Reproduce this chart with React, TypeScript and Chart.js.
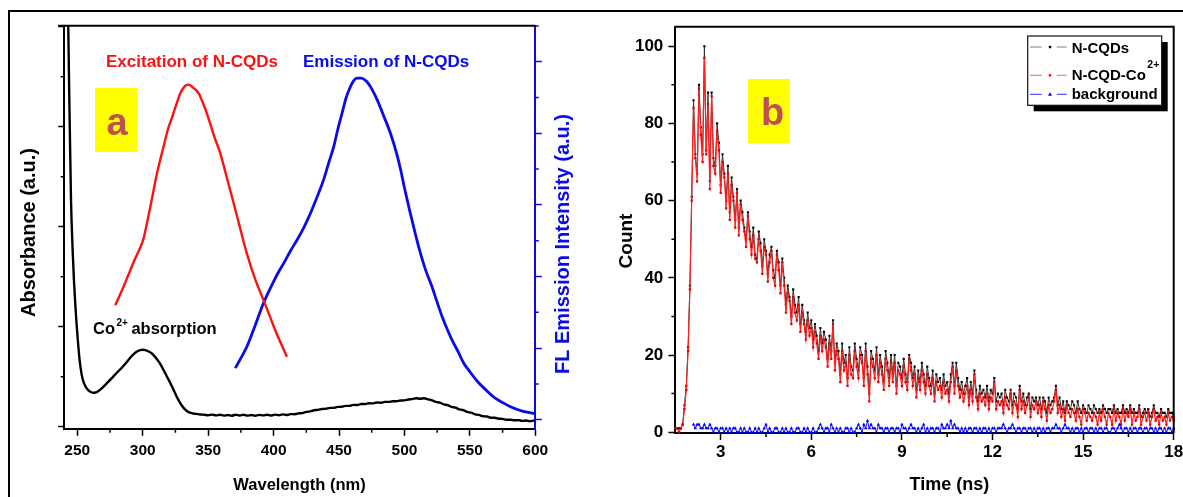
import React, { useEffect, useRef } from "react";
import { Chart, registerables } from "chart.js";

Chart.register(...registerables);

const FONT = "'Liberation Sans', Arial, Helvetica, sans-serif";

// ---------------- Panel (a): spectra ----------------
const absWavelength = [242, 243.1, 244.2, 245.2, 246.5, 247.5, 248.5, 249.5, 250.5, 251.5, 252.5, 254, 256, 258, 260, 262, 264, 266, 268, 270, 273, 276, 280, 284, 288, 292, 295, 298, 300, 302, 305, 307, 310, 313, 316, 319, 321, 323.5, 326, 328, 330, 332.5, 335, 338, 341, 344, 347, 350, 353, 356, 359, 362, 365, 368, 371, 374, 377, 380, 383, 386, 389, 392, 395, 398, 401, 404, 407, 410, 413, 416, 419, 422, 425, 428, 431, 434, 437, 440, 443, 446, 449, 452, 455, 458, 461, 464, 467, 470, 473, 476, 479, 482, 485, 488, 491, 494, 497, 500, 503, 506, 509, 512, 515, 518, 521, 524, 527, 530, 533, 536, 539, 542, 545, 548, 551, 554, 557, 560, 563, 566, 569, 572, 575, 578, 581, 584, 587, 590, 593, 596, 599, 600];
const absValue = [5.4, 4.0, 3.05, 2.27, 1.75, 1.45, 1.22, 1.02, 0.85, 0.7, 0.59, 0.48, 0.41, 0.37, 0.35, 0.34, 0.342, 0.355, 0.375, 0.4, 0.44, 0.48, 0.537, 0.59, 0.65, 0.712, 0.748, 0.766, 0.77, 0.766, 0.75, 0.732, 0.69, 0.635, 0.565, 0.49, 0.44, 0.37, 0.3, 0.25, 0.21, 0.17, 0.146, 0.134, 0.128, 0.122, 0.12, 0.114, 0.121, 0.113, 0.119, 0.111, 0.117, 0.11, 0.119, 0.112, 0.12, 0.111, 0.117, 0.11, 0.118, 0.113, 0.12, 0.112, 0.121, 0.115, 0.123, 0.117, 0.126, 0.125, 0.133, 0.136, 0.148, 0.154, 0.165, 0.168, 0.177, 0.179, 0.188, 0.188, 0.198, 0.199, 0.208, 0.208, 0.218, 0.217, 0.227, 0.226, 0.234, 0.233, 0.242, 0.24, 0.248, 0.248, 0.254, 0.255, 0.262, 0.263, 0.272, 0.276, 0.285, 0.279, 0.285, 0.274, 0.264, 0.248, 0.24, 0.224, 0.215, 0.198, 0.19, 0.173, 0.165, 0.148, 0.14, 0.124, 0.118, 0.104, 0.102, 0.09, 0.089, 0.08, 0.078, 0.07, 0.07, 0.064, 0.066, 0.058, 0.062, 0.055, 0.061, 0.058];

const excWavelength = [279, 284, 289, 294, 298, 300.5, 302.5, 305, 307, 309, 311, 313.5, 316, 318, 320, 322, 324, 326, 328.5, 331, 333, 335, 337, 339, 341, 343, 345, 347, 349, 352, 355, 359.3, 364, 369.4, 374.5, 379.6, 386, 392.3, 397, 401.3, 406, 410.2];
const excValue = [1.6, 1.8, 2.02, 2.24, 2.4, 2.52, 2.68, 2.9, 3.08, 3.27, 3.45, 3.64, 3.82, 3.97, 4.1, 4.2, 4.31, 4.42, 4.55, 4.63, 4.67, 4.68, 4.66, 4.63, 4.6, 4.55, 4.47, 4.38, 4.28, 4.11, 3.94, 3.72, 3.4, 3.03, 2.67, 2.32, 1.96, 1.67, 1.45, 1.25, 1.05, 0.88];

const emWavelength = [370.7, 375, 379.6, 386, 392.3, 400, 404, 407.6, 413, 417.9, 423, 428.1, 433, 438.2, 442, 445.9, 449, 452.3, 455.5, 458.7, 461, 463.8, 467, 469.5, 471.4, 475, 479.1, 484, 489.3, 494, 497, 500, 504, 508, 512, 516, 521, 525, 529, 533, 537, 541, 545, 550, 556, 562, 568, 575, 581, 590, 600];
const emValue = [0.72, 0.86, 1.02, 1.32, 1.63, 1.93, 2.07, 2.18, 2.36, 2.51, 2.68, 2.88, 3.1, 3.35, 3.58, 3.81, 4.05, 4.28, 4.5, 4.65, 4.73, 4.77, 4.77, 4.75, 4.72, 4.62, 4.47, 4.25, 4.0, 3.72, 3.5, 3.24, 2.92, 2.62, 2.34, 2.1, 1.86, 1.64, 1.43, 1.25, 1.09, 0.95, 0.8, 0.67, 0.53, 0.42, 0.32, 0.24, 0.18, 0.12, 0.085];

const wavelengthTicks = [250, 300, 350, 400, 450, 500, 550, 600];
const wavelengthMinorTicks = [275, 325, 375, 425, 475, 525, 575];
const absMajorTicks = [0, 1, 2, 3, 4];
const absMinorTicks = [0.5, 1.5, 2.5, 3.5];
const flMajorTicks = [0, 1, 2, 3, 4, 5];
const flMinorTicks = [0.5, 1.5, 2.5, 3.5, 4.5, 5.5];

// ---------------- Panel (b): decay curves ----------------
const TIME_START_NS = 1.5;
const CHANNEL_NS = 0.06;
const countNCQDCo = [
  1, 1, 0, 1, 2, 6, 11, 21, 37, 60,
  84, 71, 65, 89, 77, 70, 97, 72, 85, 63,
  87, 69, 67, 78, 73, 62, 70, 66, 58, 67,
  55, 64, 60, 53, 62, 51, 59, 55, 52, 48,
  56, 50, 46, 51, 45, 44, 50, 47, 41, 48,
  46, 39, 44, 47, 40, 38, 46, 42, 36, 44,
  38, 31, 36, 34, 28, 35, 31, 29, 33, 26,
  31, 28, 24, 29, 25, 27, 22, 26, 23, 19,
  25, 21, 24, 22, 17, 23, 19, 28, 16, 21,
  19, 13, 21, 16, 18, 12, 20, 15, 14, 21,
  17, 14, 20, 18, 12, 21, 15, 8, 19, 17,
  14, 20, 13, 18, 15, 11, 19, 16, 12, 18,
  13, 18, 10, 16, 15, 12, 17, 13, 11, 19,
  16, 12, 15, 9, 14, 11, 16, 13, 10, 15,
  12, 10, 14, 8, 13, 11, 12, 9, 13, 10,
  11, 8, 13, 17, 10, 16, 12, 9, 11, 8,
  10, 12, 7, 11, 8, 15, 9, 6, 10, 8,
  9, 7, 10, 6, 9, 8, 13, 6, 8, 7,
  8, 5, 9, 7, 6, 10, 5, 8, 7, 4,
  11, 6, 8, 5, 7, 9, 4, 7, 6, 8,
  5, 7, 4, 8, 6, 3, 7, 5, 6, 8,
  11, 5, 7, 4, 6, 3, 7, 5, 4, 6,
  5, 3, 6, 4, 2, 6, 5, 3, 5, 4,
  3, 5, 4, 2, 5, 3, 6, 4, 2, 5,
  4, 2, 6, 3, 5, 4, 2, 6, 3, 5,
  4, 6, 2, 5, 3, 4, 6, 2, 4, 5,
  3, 5, 2, 4, 6, 3, 4, 2, 5, 3,
  4, 2, 5, 3, 4, 3,
];
const countNCQDs = [
  1, 1, 1, 1, 2, 7, 12, 22, 38, 61,
  86, 72, 67, 90, 79, 72, 100, 73, 88, 65,
  88, 71, 69, 80, 75, 64, 72, 67, 60, 69,
  57, 66, 61, 55, 63, 53, 60, 57, 53, 50,
  57, 52, 48, 53, 46, 45, 52, 49, 43, 50,
  47, 41, 46, 48, 42, 40, 47, 44, 38, 45,
  40, 33, 38, 35, 30, 37, 33, 31, 35, 28,
  33, 29, 26, 31, 27, 29, 24, 28, 25, 21,
  27, 23, 26, 24, 19, 25, 21, 29, 18, 23,
  21, 15, 23, 18, 20, 14, 22, 17, 16, 23,
  19, 16, 22, 20, 14, 23, 17, 10, 21, 19,
  16, 22, 15, 20, 17, 13, 21, 18, 14, 20,
  15, 20, 12, 18, 17, 14, 19, 15, 13, 20,
  18, 14, 17, 11, 16, 13, 18, 15, 12, 17,
  14, 12, 16, 10, 15, 13, 14, 11, 15, 12,
  13, 10, 15, 18, 12, 18, 14, 11, 13, 10,
  12, 14, 9, 13, 10, 16, 11, 8, 12, 10,
  11, 9, 12, 8, 11, 10, 14, 8, 10, 9,
  10, 7, 11, 9, 8, 11, 7, 10, 9, 6,
  12, 8, 10, 7, 9, 10, 6, 9, 8, 9,
  7, 9, 6, 9, 8, 5, 9, 7, 8, 9,
  12, 7, 9, 6, 8, 5, 8, 7, 6, 8,
  7, 5, 8, 6, 5, 7, 6, 5, 7, 6,
  5, 7, 6, 5, 6, 5, 7, 6, 5, 6,
  6, 5, 7, 5, 6, 5, 5, 7, 5, 6,
  5, 7, 5, 6, 5, 5, 7, 4, 5, 6,
  5, 6, 4, 5, 7, 5, 5, 4, 6, 5,
  5, 4, 6, 5, 5, 4,
];
const BACKGROUND_FIRST_CHANNEL = 10;
const countBackground = [
  2, 1, 2, 2, 1, 1, 2, 1, 1, 2,
  1, 0, 1, 1, 0, 1, 1, 0, 1, 0,
  1, 0, 1, 1, 0, 0, 1, 0, 1, 0,
  0, 1, 0, 0, 1, 0, 1, 0, 0, 1,
  2, 0, 1, 0, 0, 1, 1, 0, 0, 1,
  0, 1, 0, 0, 1, 0, 0, 1, 1, 0,
  0, 1, 0, 1, 0, 0, 1, 0, 0, 1,
  2, 1, 0, 1, 1, 0, 2, 1, 0, 1,
  0, 1, 0, 0, 1, 1, 0, 1, 0, 0,
  1, 2, 1, 0, 2, 1, 3, 1, 2, 1,
  1, 0, 2, 1, 1, 0, 1, 1, 0, 1,
  1, 0, 1, 1, 0, 2, 1, 1, 0, 1,
  2, 1, 1, 0, 1, 0, 1, 2, 0, 1,
  0, 1, 1, 0, 1, 1, 0, 2, 1, 1,
  2, 1, 3, 1, 2, 1, 1, 0, 1, 0,
  1, 0, 1, 1, 0, 1, 1, 0, 1, 0,
  1, 1, 0, 1, 0, 1, 1, 0, 1, 1,
  1, 2, 1, 0, 1, 1, 2, 1, 0, 1,
  1, 0, 1, 1, 0, 1, 1, 0, 1, 0,
  1, 1, 0, 1, 0, 1, 1, 0, 1, 1,
  2, 1, 1, 0, 1, 2, 1, 1, 0, 1,
  0, 1, 1, 0, 1, 0, 1, 1, 0, 1,
  1, 0, 1, 0, 1, 1, 0, 1, 1, 0,
  0, 1, 1, 0, 1, 2, 1, 0, 1, 1,
  0, 1, 0, 1, 1, 0, 1, 1, 0, 1,
  1, 0, 1, 1, 0, 1, 0, 1, 1, 0,
  1, 0, 1, 1, 0, 1,
];
const timeTicks = [3, 6, 9, 12, 15, 18];
const timeMinorTicks = [4.5, 7.5, 10.5, 13.5, 16.5];
const countTicks = [0, 20, 40, 60, 80, 100];
const countMinorTicks = [10, 30, 50, 70, 90];

const timeNs = countNCQDCo.map((_, i) => Math.round((TIME_START_NS + i * CHANNEL_NS) * 100) / 100);

// ---------------- helpers ----------------
const setTicks = (values: number[]) => (scale: any) => {
  scale.ticks = values.map((v) => ({ value: v }));
};

const minorTicksPlugin = {
  id: "minorTicks",
  afterDraw(chart: any, _args: any, opts: any) {
    const ctx = chart.ctx;
    (opts.items || []).forEach((it: any) => {
      const scale = chart.scales[it.axis];
      ctx.save();
      ctx.strokeStyle = it.color;
      ctx.lineWidth = it.width;
      ctx.beginPath();
      it.values.forEach((v: number) => {
        const p = scale.getPixelForValue(v);
        if (scale.position === "bottom") {
          ctx.moveTo(p, scale.top);
          ctx.lineTo(p, scale.top + it.length);
        } else if (scale.position === "left") {
          ctx.moveTo(scale.right, p);
          ctx.lineTo(scale.right - it.length, p);
        } else {
          ctx.moveTo(scale.left, p);
          ctx.lineTo(scale.left + it.length, p);
        }
      });
      ctx.stroke();
      ctx.restore();
    });
  },
};

function rotatedText(ctx: CanvasRenderingContext2D, text: string, x: number, y: number, font: string, color: string) {
  ctx.save();
  ctx.translate(x, y);
  ctx.rotate(-Math.PI / 2);
  ctx.font = font;
  ctx.fillStyle = color;
  ctx.textAlign = "center";
  ctx.textBaseline = "alphabetic";
  ctx.fillText(text, 0, 0);
  ctx.restore();
}

const panelAPlugin = {
  id: "panelA",
  afterDraw(chart: any) {
    const ctx: CanvasRenderingContext2D = chart.ctx;
    const a = chart.chartArea;
    ctx.save();
    ctx.strokeStyle = "#000";
    ctx.lineWidth = 2;
    ctx.beginPath();
    ctx.moveTo(a.left - 6, a.top);
    ctx.lineTo(a.right, a.top);
    ctx.stroke();
    ctx.fillStyle = "#ffff00";
    ctx.fillRect(95, 88, 42, 64);
    ctx.fillStyle = "#c0504d";
    ctx.font = `bold 38px ${FONT}`;
    ctx.textAlign = "center";
    ctx.textBaseline = "alphabetic";
    ctx.fillText("a", 117, 135);
    ctx.textAlign = "left";
    ctx.font = `bold 17px ${FONT}`;
    ctx.fillStyle = "#ff1010";
    ctx.fillText("Excitation of N-CQDs", 106, 66.5);
    ctx.fillStyle = "#0a0aee";
    ctx.fillText("Emission of N-CQDs", 303, 66.5);
    ctx.fillStyle = "#000";
    ctx.font = `bold 16.5px ${FONT}`;
    ctx.fillText("Co", 93, 334);
    const coW = ctx.measureText("Co").width;
    ctx.font = `bold 10px ${FONT}`;
    ctx.fillText("2+", 93 + coW + 1.5, 326);
    const supW = ctx.measureText("2+").width;
    ctx.font = `bold 16.5px ${FONT}`;
    ctx.fillText("absorption", 93 + coW + 1.5 + supW + 3.5, 334);
    ctx.textAlign = "center";
    ctx.font = `bold 16.5px ${FONT}`;
    ctx.fillText("Wavelength (nm)", 299.5, 489.5);
    ctx.restore();
    rotatedText(ctx, "Absorbance (a.u.)", 35, 232.5, `bold 20px ${FONT}`, "#000");
    rotatedText(ctx, "FL Emission Intensity (a.u.)", 568.5, 244, `bold 20px ${FONT}`, "#0a0aee");
  },
};

const panelBPlugin = {
  id: "panelB",
  afterDraw(chart: any) {
    const ctx: CanvasRenderingContext2D = chart.ctx;
    const a = chart.chartArea;
    ctx.save();
    ctx.strokeStyle = "#000";
    ctx.lineWidth = 2;
    ctx.beginPath();
    ctx.moveTo(a.left, a.top);
    ctx.lineTo(a.right, a.top);
    ctx.lineTo(a.right, a.bottom);
    ctx.stroke();
    ctx.fillStyle = "#ffff00";
    ctx.fillRect(148, 79, 42, 64);
    ctx.fillStyle = "#c0504d";
    ctx.font = `bold 38px ${FONT}`;
    ctx.textAlign = "center";
    ctx.textBaseline = "alphabetic";
    ctx.fillText("b", 172.5, 125);
    const bx = 427.7, by = 36, bw = 134, bh = 69.3;
    ctx.fillStyle = "#000";
    ctx.fillRect(bx + 6, by + 6, bw, bh);
    ctx.fillStyle = "#fff";
    ctx.fillRect(bx, by, bw, bh);
    ctx.strokeStyle = "#111";
    ctx.lineWidth = 1.2;
    ctx.strokeRect(bx, by, bw, bh);
    const entries = [
      { y: 47, base: 52.7, dash: "#808080", mark: "#000", tri: false, text: "N-CQDs" },
      { y: 75.3, base: 80.3, dash: "#ff8080", mark: "#ff0000", tri: false, text: "N-CQD-Co" },
      { y: 94.3, base: 98.7, dash: "#5a5aff", mark: "#0000ff", tri: true, text: "background" },
    ];
    entries.forEach((e) => {
      ctx.strokeStyle = e.dash;
      ctx.lineWidth = 1.2;
      ctx.beginPath();
      ctx.moveTo(430, e.y);
      ctx.lineTo(441.7, e.y);
      ctx.moveTo(456.7, e.y);
      ctx.lineTo(466.7, e.y);
      ctx.stroke();
      ctx.fillStyle = e.mark;
      if (e.tri) {
        ctx.beginPath();
        ctx.moveTo(450, e.y - 2);
        ctx.lineTo(452, e.y + 1.5);
        ctx.lineTo(448, e.y + 1.5);
        ctx.closePath();
        ctx.fill();
      } else {
        ctx.fillRect(448.8, e.y - 1.2, 2.4, 2.4);
      }
      ctx.fillStyle = "#000";
      ctx.textAlign = "left";
      ctx.font = `bold 15px ${FONT}`;
      ctx.fillText(e.text, 471.7, e.base);
      if (e.text === "N-CQD-Co") {
        const w = ctx.measureText(e.text).width;
        ctx.font = `bold 10.5px ${FONT}`;
        ctx.fillText("2+", 471.7 + w + 1.5, 67.5);
      }
    });
    ctx.fillStyle = "#000";
    ctx.textAlign = "center";
    ctx.font = `bold 18px ${FONT}`;
    ctx.fillText("Time (ns)", 349.3, 489.5);
    ctx.restore();
    rotatedText(ctx, "Count", 31.5, 241, `bold 19px ${FONT}`, "#000");
  },
};

function tickFont(size: number) {
  return { family: FONT, size, weight: "bold" as const };
}

function leftConfig(): any {
  return {
    type: "line",
    data: {
      datasets: [
        {
          label: "Absorbance",
          data: absWavelength.map((x, i) => ({ x, y: absValue[i] })),
          yAxisID: "y",
          borderColor: "#000",
          borderWidth: 2.4,
          pointRadius: 0,
          cubicInterpolationMode: "monotone",
        },
        {
          label: "Excitation of N-CQDs",
          data: excWavelength.map((x, i) => ({ x, y: excValue[i] })),
          yAxisID: "y1",
          borderColor: "#ff1010",
          borderWidth: 2.4,
          pointRadius: 0,
          cubicInterpolationMode: "monotone",
        },
        {
          label: "Emission of N-CQDs",
          data: emWavelength.map((x, i) => ({ x, y: emValue[i] })),
          yAxisID: "y1",
          borderColor: "#0a0aee",
          borderWidth: 2.8,
          pointRadius: 0,
          cubicInterpolationMode: "monotone",
        },
      ],
    },
    options: {
      animation: false,
      responsive: false,
      devicePixelRatio: 1,
      events: [],
      layout: { padding: { top: 25.7, left: 0, right: 0, bottom: 0 } },
      plugins: {
        legend: { display: false },
        tooltip: { enabled: false },
        minorTicks: {
          items: [
            { axis: "x", values: wavelengthMinorTicks, length: 3.5, color: "#000", width: 1.5 },
            { axis: "y", values: absMinorTicks, length: 3.5, color: "#000", width: 1.5 },
            { axis: "y1", values: flMinorTicks, length: 3.5, color: "#0a0aee", width: 1.5 },
          ],
        },
      },
      scales: {
        x: {
          type: "linear",
          position: "bottom",
          min: 240,
          max: 600,
          afterBuildTicks: setTicks(wavelengthTicks),
          afterFit: (s: any) => {
            s.height = 67.7;
            s.paddingLeft = 0;
            s.paddingRight = 0;
          },
          grid: { display: true, drawOnChartArea: false, drawTicks: true, tickLength: 6.5, tickWidth: 1.5, tickColor: "#000" },
          border: { display: true, color: "#000", width: 2 },
          ticks: { color: "#000", font: tickFont(15.5), padding: 6, maxRotation: 0, autoSkip: false },
        },
        y: {
          type: "linear",
          position: "left",
          min: -0.026,
          max: 4.01,
          afterBuildTicks: setTicks(absMajorTicks),
          afterFit: (s: any) => {
            s.width = 64.2;
            s.paddingTop = 0;
            s.paddingBottom = 0;
          },
          grid: { display: true, drawOnChartArea: false, drawTicks: true, tickLength: 6, tickWidth: 1.5, tickColor: "#000" },
          border: { display: true, color: "#000", width: 2 },
          ticks: { display: false },
        },
        y1: {
          type: "linear",
          position: "right",
          min: -0.134,
          max: 5.503,
          afterBuildTicks: setTicks(flMajorTicks),
          afterFit: (s: any) => {
            s.width = 64.7;
            s.paddingTop = 0;
            s.paddingBottom = 0;
          },
          grid: { display: true, drawOnChartArea: false, drawTicks: true, tickLength: 6.5, tickWidth: 1.5, tickColor: "#0a0aee" },
          border: { display: true, color: "#0a0aee", width: 2 },
          ticks: { display: false },
        },
      },
    },
    plugins: [minorTicksPlugin, panelAPlugin],
  };
}

function rightConfig(): any {
  return {
    type: "line",
    data: {
      datasets: [
        {
          label: "N-CQD-Co2+",
          data: countNCQDCo.map((y, i) => ({ x: timeNs[i], y })),
          borderColor: "#ff2020",
          borderWidth: 1.2,
          pointRadius: 1.6,
          pointStyle: "rect",
          pointBackgroundColor: "#e00000",
          pointBorderWidth: 0,
          order: 1,
          clip: 4,
        },
        {
          label: "N-CQDs",
          data: countNCQDs.map((y, i) => ({ x: timeNs[i], y })),
          borderColor: "#333",
          borderWidth: 1,
          pointRadius: 1.5,
          pointStyle: "rect",
          pointBackgroundColor: "#000",
          pointBorderWidth: 0,
          order: 2,
          clip: 4,
        },
        {
          label: "background",
          data: countBackground.map((y, k) => ({ x: timeNs[k + BACKGROUND_FIRST_CHANNEL], y })),
          borderColor: "#1a1aff",
          borderWidth: 1,
          pointRadius: 2,
          pointStyle: "triangle",
          pointBackgroundColor: "#0000ff",
          pointBorderWidth: 0,
          order: 0,
          clip: 4,
        },
      ],
    },
    options: {
      animation: false,
      responsive: false,
      devicePixelRatio: 1,
      events: [],
      layout: { padding: { top: 26.7, left: 0, right: 9.3, bottom: 0 } },
      plugins: {
        legend: { display: false },
        tooltip: { enabled: false },
        minorTicks: {
          items: [
            { axis: "x", values: timeMinorTicks, length: 4, color: "#000", width: 1.5 },
            { axis: "y", values: countMinorTicks, length: 4, color: "#000", width: 1.5 },
          ],
        },
      },
      scales: {
        x: {
          type: "linear",
          position: "bottom",
          min: 1.5,
          max: 18,
          afterBuildTicks: setTicks(timeTicks),
          afterFit: (s: any) => {
            s.height = 64;
            s.paddingLeft = 0;
            s.paddingRight = 0;
          },
          grid: { display: true, drawOnChartArea: false, drawTicks: true, tickLength: 7, tickWidth: 1.5, tickColor: "#000" },
          border: { display: true, color: "#000", width: 2 },
          ticks: { color: "#000", font: tickFont(17), padding: 2.1, maxRotation: 0, autoSkip: false },
        },
        y: {
          type: "linear",
          position: "left",
          min: -0.2,
          max: 105.05,
          afterBuildTicks: setTicks(countTicks),
          afterFit: (s: any) => {
            s.width = 75.4;
            s.paddingTop = 0;
            s.paddingBottom = 0;
          },
          grid: { display: true, drawOnChartArea: false, drawTicks: true, tickLength: 7, tickWidth: 1.5, tickColor: "#000" },
          border: { display: true, color: "#000", width: 2 },
          ticks: { color: "#000", font: tickFont(17), padding: 5.1 },
        },
      },
    },
    plugins: [minorTicksPlugin, panelBPlugin],
  };
}

export default function App() {
  const leftRef = useRef<HTMLCanvasElement>(null);
  const rightRef = useRef<HTMLCanvasElement>(null);

  useEffect(() => {
    Chart.defaults.font.family = FONT;
    const a = new Chart(leftRef.current as HTMLCanvasElement, leftConfig());
    const b = new Chart(rightRef.current as HTMLCanvasElement, rightConfig());
    return () => {
      a.destroy();
      b.destroy();
    };
  }, []);

  return (
    <div
      style={{
        position: "fixed",
        left: 0,
        top: 0,
        width: 1183,
        height: 497,
        background: "#fff",
        overflow: "hidden",
      }}
    >
      <canvas
        ref={leftRef}
        width={600}
        height={497}
        style={{ position: "absolute", left: 0, top: 0, width: 600, height: 497 }}
      />
      <canvas
        ref={rightRef}
        width={583}
        height={497}
        style={{ position: "absolute", left: 600, top: 0, width: 583, height: 497 }}
      />
      <div
        style={{
          position: "absolute",
          left: 8,
          top: 10,
          width: 1300,
          height: 600,
          borderLeft: "2px solid #000",
          borderTop: "2px solid #000",
          pointerEvents: "none",
        }}
      />
    </div>
  );
}
